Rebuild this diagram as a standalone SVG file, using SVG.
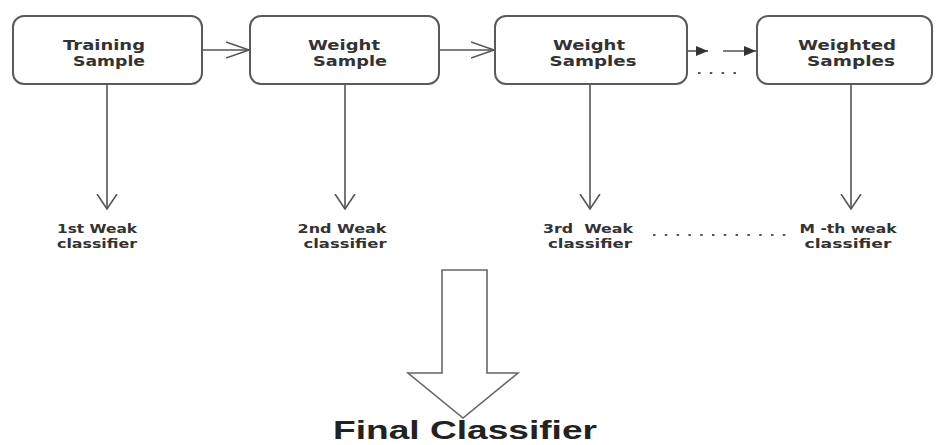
<svg xmlns="http://www.w3.org/2000/svg" width="936" height="445" viewBox="0 0 936 445">
<style>
.box{fill:#fff;stroke:#5a5a5a;stroke-width:2}
.bt{font-family:"DejaVu Sans","Liberation Sans",sans-serif;font-weight:bold;font-size:14px;fill:#333;text-anchor:middle}
.lt{font-family:"DejaVu Sans","Liberation Sans",sans-serif;font-weight:bold;font-size:11.5px;fill:#333;text-anchor:middle}
.ln{fill:none;stroke:#555;stroke-width:1.6}
.dot{fill:none;stroke:#555;stroke-width:2;stroke-dasharray:2.5 9.3}
.big{fill:#fff;stroke:#666;stroke-width:1.6}
.ft{font-family:"Liberation Sans",Arial,sans-serif;font-weight:bold;font-size:26px;fill:#222;text-anchor:middle}
</style>
<defs>
<marker id="open" viewBox="0 0 24 18" refX="23" refY="9" markerWidth="24" markerHeight="18" markerUnits="userSpaceOnUse" orient="auto">
<path d="M0,1 L23,9 L0,17" fill="none" stroke="#555" stroke-width="1.6"/>
</marker>
<marker id="openv" viewBox="0 0 16 22" refX="15" refY="11" markerWidth="16" markerHeight="22" markerUnits="userSpaceOnUse" orient="auto">
<path d="M0,1 L15,11 L0,21" fill="none" stroke="#555" stroke-width="1.6"/>
</marker>
<marker id="fill" viewBox="0 0 12 10" refX="12" refY="5" markerWidth="12" markerHeight="10" markerUnits="userSpaceOnUse" orient="auto">
<path d="M0,0 L12,5 L0,10 Z" fill="#333"/>
</marker>
</defs>
<rect width="936" height="445" fill="#fff"/>
<g id="connectors">
<line class="ln" x1="202" y1="50" x2="249" y2="50" marker-end="url(#open)"/>
<line class="ln" x1="439" y1="50" x2="494" y2="50" marker-end="url(#open)"/>
<line class="ln" x1="687" y1="51" x2="708" y2="51" marker-end="url(#fill)"/>
<line class="ln" x1="723" y1="51" x2="756" y2="51" marker-end="url(#fill)"/>
<line class="dot" x1="698" y1="73" x2="745" y2="73"/>
<line class="ln" x1="107" y1="84" x2="107" y2="209" marker-end="url(#openv)"/>
<line class="ln" x1="345" y1="84" x2="345" y2="209" marker-end="url(#openv)"/>
<line class="ln" x1="590" y1="84" x2="590" y2="209" marker-end="url(#openv)"/>
<line class="ln" x1="851" y1="84" x2="851" y2="209" marker-end="url(#openv)"/>
<line class="dot" x1="653" y1="235" x2="790" y2="235"/>
</g>
<g id="node-training">
<rect class="box" x="13" y="16" width="189" height="68" rx="11"/>
<text class="bt" x="104" y="50" textLength="82" lengthAdjust="spacingAndGlyphs">Training</text>
<text class="bt" x="109" y="66" textLength="72" lengthAdjust="spacingAndGlyphs">Sample</text>
</g>
<g id="node-weight1">
<rect class="box" x="250" y="16" width="189" height="68" rx="11"/>
<text class="bt" x="344" y="50" textLength="72" lengthAdjust="spacingAndGlyphs">Weight</text>
<text class="bt" x="350" y="66" textLength="74" lengthAdjust="spacingAndGlyphs">Sample</text>
</g>
<g id="node-weight2">
<rect class="box" x="495" y="16" width="192" height="68" rx="11"/>
<text class="bt" x="589" y="50" textLength="72" lengthAdjust="spacingAndGlyphs">Weight</text>
<text class="bt" x="593" y="66" textLength="87" lengthAdjust="spacingAndGlyphs">Samples</text>
</g>
<g id="node-weighted">
<rect class="box" x="757" y="16" width="175" height="68" rx="11"/>
<text class="bt" x="847" y="50" textLength="98" lengthAdjust="spacingAndGlyphs">Weighted</text>
<text class="bt" x="851" y="66" textLength="88" lengthAdjust="spacingAndGlyphs">Samples</text>
</g>
<g id="label-1">
<text class="lt" x="97" y="233" textLength="80" lengthAdjust="spacingAndGlyphs">1st Weak</text>
<text class="lt" x="97" y="248" textLength="80" lengthAdjust="spacingAndGlyphs">classifier</text>
</g>
<g id="label-2">
<text class="lt" x="342" y="233" textLength="89" lengthAdjust="spacingAndGlyphs">2nd Weak</text>
<text class="lt" x="345" y="248" textLength="83" lengthAdjust="spacingAndGlyphs">classifier</text>
</g>
<g id="label-3">
<text class="lt" x="588" y="233" textLength="90" lengthAdjust="spacingAndGlyphs" xml:space="preserve">3rd  Weak</text>
<text class="lt" x="590" y="248" textLength="84" lengthAdjust="spacingAndGlyphs">classifier</text>
</g>
<g id="label-m">
<text class="lt" x="848" y="233" textLength="97" lengthAdjust="spacingAndGlyphs">M -th weak</text>
<text class="lt" x="848" y="248" textLength="87" lengthAdjust="spacingAndGlyphs">classifier</text>
</g>
<g id="final">
<polygon class="big" points="442,270 487,270 487,373 518,373 463,418 408,373 442,373"/>
<text class="ft" x="465" y="439" textLength="264" lengthAdjust="spacingAndGlyphs">Final Classifier</text>
</g>
</svg>
